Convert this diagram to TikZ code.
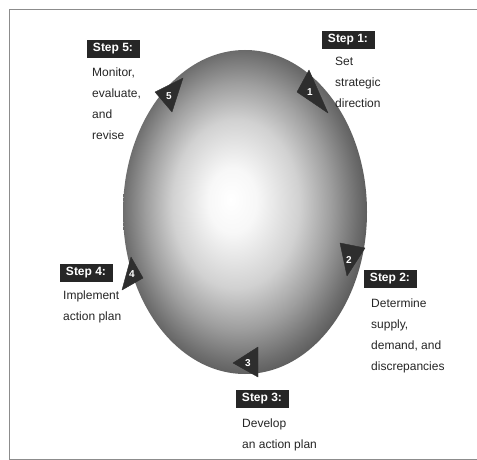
\documentclass[tikz,border=0pt]{standalone}
\usepackage{fontspec}
\setmainfont{Liberation Sans}
\pgfdeclareradialshading{eggshade}{\pgfpoint{-3bp}{2bp}}{color(0bp)=(white); color(5bp)=(white!97!black); color(13bp)=(black!18); color(19bp)=(black!38); color(24bp)=(black!57); color(29bp)=(black!74); color(35bp)=(black!85)}
\begin{document}
\begin{tikzpicture}[x=1pt,y=-1pt,
  frameline/.style={draw=black!45,line width=0.7pt},
  stepbox/.style={fill=black!85,text=white,font=\fontsize{12}{14}\selectfont\bfseries,minimum width=53pt,minimum height=18pt,inner sep=0pt},
  steptext/.style={anchor=north west,inner sep=0pt,align=left,text=black!85,font=\fontsize{12}{21}\selectfont},
  arrowhd/.style={fill=black!82,draw=black!82,line join=round},
  num/.style={text=white,font=\fontsize{10}{11}\selectfont\bfseries,inner sep=0pt}]
\useasboundingbox (0,0) rectangle (477,460);
\fill[white] (0,0) rectangle (477,460);
\draw[frameline] (477,9) -- (9,9) -- (9,459) -- (477,459);
% egg
\shade[shading=eggshade] (245,212) ellipse [x radius=122, y radius=162];
% arrowheads
\filldraw[arrowhd] (328,113) -- (309,70) -- (297,92) -- cycle;
\filldraw[arrowhd] (347,276) -- (340,243) -- (365,248) -- cycle;
\filldraw[arrowhd] (233,363) -- (258,347) -- (258,377) -- cycle;
\filldraw[arrowhd] (131,257) -- (122,290) -- (143,278) -- cycle;
\filldraw[arrowhd] (183,78) -- (155,92) -- (172,112) -- cycle;
\node[num] (n1) at (310,92) {1};
\node[num] (n2) at (349,260) {2};
\node[num] (n3) at (248,363) {3};
\node[num] (n4) at (132,274) {4};
\node[num] (n5) at (169,96) {5};
% step labels
\node[stepbox] (s1) at (348,40) {Step 1:};
\node[steptext] (t1) at (335,57) {Set\\strategic\\direction};
\node[stepbox] (s2) at (390,279) {Step 2:};
\node[steptext] (t2) at (371,299) {Determine\\supply,\\demand, and\\discrepancies};
\node[stepbox] (s3) at (262,399) {Step 3:};
\node[steptext] (t3) at (242,419) {Develop\\an action plan};
\node[stepbox] (s4) at (86,273) {Step 4:};
\node[steptext] (t4) at (63,291) {Implement\\action plan};
\node[stepbox] (s5) at (113,49) {Step 5:};
\node[steptext] (t5) at (92,68) {Monitor,\\evaluate,\\and\\revise};
\end{tikzpicture}
\end{document}
